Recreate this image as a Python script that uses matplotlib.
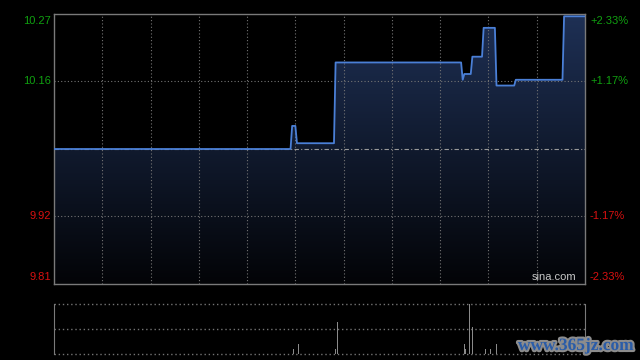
import numpy as np
import matplotlib
matplotlib.use("Agg")
import matplotlib.pyplot as plt
import matplotlib.patheffects as pe
from matplotlib.transforms import blended_transform_factory

# intraday price, HK session (330 minutes), stored as levels + how many minutes each lasted
prev_close = 10.04
levels = [10.04, 10.08, 10.05, 10.19, 10.16, 10.17, 10.20, 10.25, 10.15, 10.16, 10.27]
durations = [148, 3, 24, 79, 1, 5, 7, 8, 12, 30, 14]

# volume spikes (minute, relative volume)
vol_minutes = [149, 152, 175, 176, 255, 256, 258, 260, 268, 271, 275]
vol_values = [10, 20, 10, 65, 20, 10, 100, 55, 10, 10, 20]

left_labels = ["10.27", "10.16", "9.92", "9.81"]
right_labels = ["+2.33%", "+1.17%", "-1.17%", "-2.33%"]
label_prices = [10.274, 10.157, 9.923, 9.806]

price = np.repeat(levels, durations)
minutes = np.arange(len(price))

green = "#10a010"
red = "#d81010"
grid_c = "#747474"
font = "Liberation Sans"

fig = plt.figure(figsize=(6.4, 3.6), dpi=100, facecolor="black")
W, H = 640, 360
ax = fig.add_axes([54 / W, (H - 284) / H, 531 / W, 270 / H])
ax.set_facecolor("black")
ax.set_xlim(0, 330)
ax.set_ylim(9.806, 10.274)

# gradient fill under the line, clipped to the area polygon
poly = ax.fill_between(minutes, price, 9.806, color="none", lw=0)
grad = np.linspace(1, 0, 256).reshape(-1, 1)
top = np.array([0x1e, 0x30, 0x55]) / 255
bot = np.array([0x03, 0x04, 0x07]) / 255
img = bot + (top - bot) * grad[..., None]
im = ax.imshow(img, extent=[0, 330, 9.806, 10.274], aspect="auto", zorder=1)
im.set_clip_path(poly.get_paths()[0], transform=ax.transData)

# grid
for m in range(30, 330, 30):
    ax.axvline(m, color=grid_c, lw=0.8, ls=(0, (1, 2)), zorder=2)
for p in [label_prices[1], label_prices[2]]:
    ax.axhline(p, color=grid_c, lw=0.8, ls=(0, (1, 2)), zorder=2)
ax.axhline(prev_close, color="#9a9a9a", lw=0.8, ls=(0, (4, 2, 1, 2)), zorder=2)

ax.plot(minutes, price, color="#4a7fd6", lw=1.3, zorder=3)

ax.set_xticks([])
ax.set_yticks([])
for s in ax.spines.values():
    s.set_color("#7a7a7a")
    s.set_linewidth(1)

tr = blended_transform_factory(fig.transFigure, ax.transData)
vas = ["top", "center", "center", "bottom"]
cols = [green, green, red, red]
for lab, rl, p, va, c in zip(left_labels, right_labels, label_prices, vas, cols):
    off = -0.004 if va == "top" else (0.004 if va == "bottom" else 0)
    ax.text(51 / W, p + off, lab, transform=tr, ha="right", va=va, color=c,
            fontsize=8, family=font)
    ax.text(590 / W, p + off, rl, transform=tr, ha="left", va=va, color=c,
            fontsize=8, family=font)

ax.text(0.983, 0.008, "sina.com", transform=ax.transAxes, ha="right", va="bottom",
        color="#c8c8c8", fontsize=8, family=font)

# volume panel
vax = fig.add_axes([54 / W, (H - 354) / H, 531 / W, 50 / H])
vax.set_facecolor("black")
vax.set_xlim(0, 330)
vax.set_ylim(0, 100)
vax.bar(vol_minutes, vol_values, width=0.7, color="#8a8a8a", zorder=3)
for v in [0, 50, 100]:
    vax.axhline(v, color=grid_c, lw=1, ls=(0, (1, 2)), zorder=2, clip_on=False)
vax.set_xticks([])
vax.set_yticks([])
for k in ["top", "bottom"]:
    vax.spines[k].set_visible(False)
for k in ["left", "right"]:
    vax.spines[k].set_color("#7a7a7a")

fig.text(576 / W, (H - 346) / H, "www.365jz.com", ha="center", va="center",
         color="#2a5ca8", fontsize=12.5, family="Liberation Serif", weight="bold",
         path_effects=[pe.withStroke(linewidth=3, foreground="#8c8c8c")])

fig.savefig("out.png", dpi=100, facecolor="black")
